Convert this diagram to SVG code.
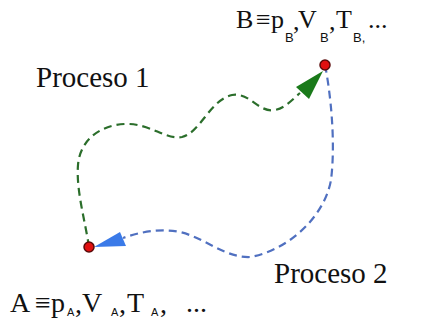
<svg xmlns="http://www.w3.org/2000/svg" width="421" height="324" viewBox="0 0 421 324">
<style>
.t{font-family:"Liberation Serif","Times New Roman",serif;fill:#111}
.s{font-family:"Liberation Sans",Arial,sans-serif;fill:#111}
.g{fill:none;stroke:#2b6e2b;stroke-width:2.2;stroke-dasharray:8 5}
.b{fill:none;stroke:#5070c0;stroke-width:2.2;stroke-dasharray:8 5}
.dot{fill:#e01010;stroke:#5a0a0a;stroke-width:1.5}
</style>
<rect width="421" height="324" fill="#fff"/>
<g id="connectors">
<path class="g" d="M89,247 C85,220 76,190 78,165 C80,140 100,125 125,124 C150,123 165,140 182,137 C200,133 210,100 232,95 C250,92 258,113 275,110 C285,108 292,100 300,93"/>
<polygon points="323,71 296,87 309,99" fill="#1a7a1a"/>
<path class="b" d="M325,65 C330,90 336,140 331,180 C325,215 290,250 250,257 C225,258 205,238 180,232 C160,228 140,232 123,238"/>
<polygon points="94,247 120,232 126,246" fill="#3a7ae8"/>
</g>
<g id="nodeB">
<circle class="dot" cx="325" cy="65" r="5"/>
<text class="t" font-size="26" x="236" y="28">B</text>
<text class="t" font-size="26" x="256" y="28">≡</text>
<text class="t" font-size="26" x="271" y="28">p</text>
<text class="s" font-size="13" x="285" y="42">B</text>
<text class="t" font-size="26" x="293" y="30">,</text>
<text class="t" font-size="26" x="298" y="28">V</text>
<text class="s" font-size="13" x="320" y="42">B</text>
<text class="t" font-size="26" x="329" y="30">,</text>
<text class="t" font-size="26" x="336" y="28">T</text>
<text class="s" font-size="13" x="353" y="42">B,</text>
<text class="t" font-size="26" x="368" y="28">...</text>
</g>
<g id="nodeA">
<circle class="dot" cx="89" cy="247" r="5"/>
<text class="t" font-size="28" x="10" y="312">A</text>
<text class="t" font-size="28" x="35" y="312">≡</text>
<text class="t" font-size="28" x="51" y="312">p</text>
<text class="s" font-size="11" x="67" y="316">A</text>
<text class="t" font-size="28" x="75" y="313">,</text>
<text class="t" font-size="28" x="82" y="312">V</text>
<text class="s" font-size="11" x="111" y="316">A</text>
<text class="t" font-size="28" x="119" y="313">,</text>
<text class="t" font-size="28" x="127" y="312">T</text>
<text class="s" font-size="11" x="151" y="316">A</text>
<text class="t" font-size="28" x="160" y="313">,</text>
<text class="t" font-size="28" x="186" y="312">...</text>
</g>
<g id="proceso1">
<text class="t" font-size="29" x="36" y="87">Proceso 1</text>
</g>
<g id="proceso2">
<text class="t" font-size="29" x="274" y="283">Proceso 2</text>
</g>
</svg>
